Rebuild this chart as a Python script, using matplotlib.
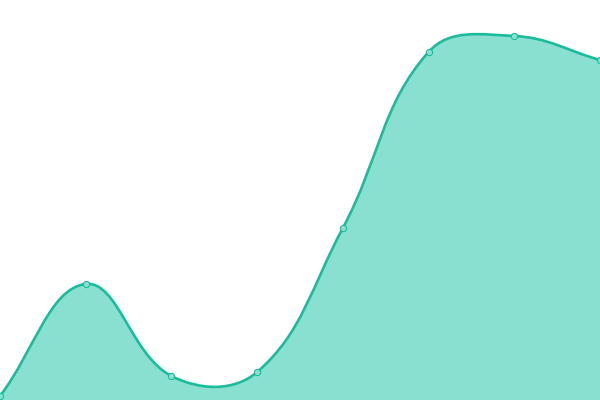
import numpy as np
import matplotlib
matplotlib.use('Agg')
import matplotlib.pyplot as plt
from matplotlib.path import Path
from matplotlib.patches import PathPatch

labels = ['A', 'B', 'C', 'D', 'E', 'F', 'G', 'H']
values = [1, 29, 6, 7, 43, 87, 91, 85]

line_color = '#1ABC9C'
fill_color = '#89E0D0'
tension = 0.4

fig = plt.figure(figsize=(6, 4), dpi=100)
ax = fig.add_axes([0, 0, 1, 1])
ax.set_xlim(0, len(values) - 1)
ax.set_ylim(0, 100)
ax.axis('off')

x = np.arange(len(values), dtype=float)
y = np.array(values, dtype=float)

# work in pixel space so the spline looks like the original
pts = ax.transData.transform(np.column_stack([x, y]))
n = len(pts)
ctrl_prev = np.zeros_like(pts)
ctrl_next = np.zeros_like(pts)
for i in range(n):
    p0 = pts[i - 1] if i > 0 else pts[i]
    p1 = pts[i]
    p2 = pts[i + 1] if i < n - 1 else pts[i]
    d01 = np.hypot(*(p1 - p0))
    d12 = np.hypot(*(p2 - p1))
    tot = d01 + d12
    s01 = d01 / tot if tot else 0
    s12 = d12 / tot if tot else 0
    ctrl_prev[i] = p1 - tension * s01 * (p2 - p0)
    ctrl_next[i] = p1 + tension * s12 * (p2 - p0)

verts = [pts[0]]
codes = [Path.MOVETO]
for i in range(n - 1):
    verts += [ctrl_next[i], ctrl_prev[i + 1], pts[i + 1]]
    codes += [Path.CURVE4] * 3

inv = ax.transData.inverted()
verts = inv.transform(np.array(verts))

line_path = Path(verts, codes)
fill_verts = np.vstack([verts, [[x[-1], 0], [x[0], 0], verts[0]]])
fill_codes = codes + [Path.LINETO, Path.LINETO, Path.CLOSEPOLY]
fill_path = Path(fill_verts, fill_codes)

ax.add_patch(PathPatch(fill_path, facecolor=fill_color, edgecolor='none', zorder=1))
ax.add_patch(PathPatch(line_path, facecolor='none', edgecolor=line_color, lw=1.9, zorder=2))
ax.plot(x, y, 'o', ms=4.5, mfc=fill_color, mec=line_color, mew=0.8, zorder=3, clip_on=False)

fig.savefig('out.png', dpi=100)
